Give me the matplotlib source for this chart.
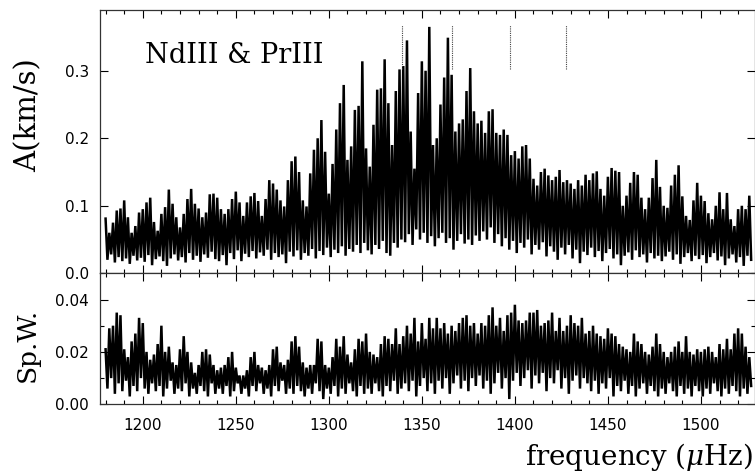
import matplotlib
matplotlib.use("Agg")
import matplotlib.pyplot as plt
import numpy as np
from matplotlib.ticker import MultipleLocator, NullLocator

# Amplitude spectrum A (km/s):
# local maxima on even frequencies (1180, 1182, ...), minima on odd ones (1181, 1183, ...)
amp_peak = [
    0.081, 0.060, 0.075, 0.093, 0.096, 0.108, 0.083, 0.060, 0.070, 0.090,
    0.095, 0.105, 0.112, 0.076, 0.063, 0.088, 0.098, 0.124, 0.103, 0.083,
    0.068, 0.088, 0.110, 0.125, 0.103, 0.096, 0.083, 0.090, 0.117, 0.118,
    0.112, 0.095, 0.088, 0.095, 0.110, 0.121, 0.105, 0.085, 0.105, 0.114,
    0.119, 0.107, 0.085, 0.110, 0.138, 0.133, 0.124, 0.108, 0.099, 0.138,
    0.166, 0.173, 0.150, 0.108, 0.099, 0.148, 0.183, 0.200, 0.227, 0.180,
    0.118, 0.162, 0.213, 0.252, 0.279, 0.168, 0.188, 0.242, 0.248, 0.314,
    0.185, 0.158, 0.220, 0.272, 0.274, 0.317, 0.252, 0.190, 0.270, 0.302,
    0.307, 0.345, 0.210, 0.155, 0.267, 0.314, 0.300, 0.365, 0.190, 0.200,
    0.250, 0.290, 0.349, 0.294, 0.210, 0.222, 0.228, 0.270, 0.304, 0.240,
    0.222, 0.226, 0.208, 0.240, 0.243, 0.208, 0.205, 0.213, 0.205, 0.175,
    0.181, 0.170, 0.188, 0.190, 0.170, 0.140, 0.130, 0.150, 0.155, 0.145,
    0.138, 0.143, 0.153, 0.135, 0.138, 0.133, 0.125, 0.138, 0.130, 0.146,
    0.138, 0.148, 0.151, 0.125, 0.115, 0.143, 0.156, 0.152, 0.150, 0.100,
    0.115, 0.134, 0.150, 0.146, 0.112, 0.095, 0.112, 0.141, 0.168, 0.128,
    0.100, 0.097, 0.130, 0.146, 0.160, 0.114, 0.085, 0.079, 0.108, 0.134,
    0.115, 0.107, 0.089, 0.080, 0.100, 0.120, 0.095, 0.119, 0.080, 0.070,
    0.095, 0.100, 0.095, 0.115,
]
amp_dip = [
    0.020, 0.028, 0.016, 0.024, 0.018, 0.022, 0.014, 0.026, 0.019, 0.023,
    0.017, 0.027, 0.012, 0.021, 0.025, 0.018, 0.011, 0.022, 0.028, 0.019,
    0.024, 0.016, 0.030, 0.020, 0.026, 0.017, 0.028, 0.023, 0.032, 0.021,
    0.018, 0.027, 0.012, 0.030, 0.021, 0.034, 0.018, 0.029, 0.024, 0.033,
    0.022, 0.031, 0.026, 0.035, 0.020, 0.030, 0.024, 0.028, 0.015, 0.032,
    0.025, 0.034, 0.020, 0.030, 0.026, 0.036, 0.022, 0.033, 0.027, 0.038,
    0.024, 0.035, 0.030, 0.040, 0.026, 0.036, 0.032, 0.042, 0.030, 0.045,
    0.034, 0.028, 0.042, 0.036, 0.048, 0.030, 0.026, 0.045, 0.038, 0.050,
    0.046, 0.058, 0.042, 0.065, 0.050, 0.060, 0.045, 0.055, 0.040, 0.052,
    0.060, 0.045, 0.052, 0.035, 0.048, 0.058, 0.044, 0.050, 0.042, 0.056,
    0.048, 0.062, 0.050, 0.068, 0.045, 0.058, 0.040, 0.052, 0.035, 0.048,
    0.030, 0.045, 0.038, 0.050, 0.028, 0.042, 0.035, 0.046, 0.025, 0.040,
    0.032, 0.020, 0.038, 0.028, 0.042, 0.022, 0.035, 0.015, 0.032, 0.027,
    0.038, 0.024, 0.033, 0.018, 0.030, 0.036, 0.022, 0.028, 0.012, 0.026,
    0.031, 0.020, 0.034, 0.024, 0.028, 0.016, 0.030, 0.022, 0.026, 0.018,
    0.025, 0.032, 0.020, 0.028, 0.014, 0.024, 0.030, 0.018, 0.026, 0.021,
    0.027, 0.015, 0.024, 0.030, 0.019, 0.025, 0.012, 0.022, 0.028, 0.016,
    0.024, 0.011, 0.026, 0.020,
]

# Spectral window (Sp.W.), same frequency sampling
spw_peak = [
    0.021, 0.029, 0.030, 0.035, 0.034, 0.021, 0.018, 0.024, 0.027, 0.033,
    0.031, 0.020, 0.017, 0.019, 0.023, 0.030, 0.020, 0.022, 0.016, 0.015,
    0.021, 0.026, 0.020, 0.016, 0.012, 0.015, 0.020, 0.021, 0.019, 0.015,
    0.013, 0.014, 0.015, 0.018, 0.020, 0.014, 0.011, 0.011, 0.013, 0.018,
    0.020, 0.015, 0.014, 0.013, 0.015, 0.021, 0.022, 0.016, 0.015, 0.017,
    0.024, 0.026, 0.022, 0.016, 0.014, 0.015, 0.015, 0.025, 0.024, 0.015,
    0.014, 0.018, 0.025, 0.022, 0.026, 0.019, 0.016, 0.021, 0.025, 0.024,
    0.027, 0.020, 0.019, 0.018, 0.023, 0.026, 0.025, 0.023, 0.029, 0.023,
    0.026, 0.030, 0.027, 0.033, 0.024, 0.031, 0.025, 0.033, 0.029, 0.033,
    0.029, 0.031, 0.027, 0.030, 0.028, 0.031, 0.033, 0.034, 0.030, 0.031,
    0.027, 0.031, 0.030, 0.034, 0.037, 0.030, 0.033, 0.028, 0.034, 0.035,
    0.038, 0.032, 0.031, 0.032, 0.035, 0.035, 0.036, 0.030, 0.031, 0.032,
    0.035, 0.028, 0.033, 0.028, 0.030, 0.034, 0.031, 0.030, 0.033, 0.027,
    0.028, 0.030, 0.027, 0.026, 0.025, 0.029, 0.027, 0.026, 0.023, 0.022,
    0.021, 0.020, 0.027, 0.024, 0.023, 0.020, 0.019, 0.022, 0.027, 0.023,
    0.020, 0.018, 0.020, 0.022, 0.024, 0.020, 0.026, 0.020, 0.019, 0.021,
    0.020, 0.021, 0.022, 0.020, 0.018, 0.023, 0.021, 0.025, 0.021, 0.027,
    0.029, 0.027, 0.022, 0.018,
]
spw_dip = [
    0.006, 0.010, 0.004, 0.008, 0.005, 0.009, 0.003, 0.007, 0.005, 0.010,
    0.006, 0.004, 0.008, 0.005, 0.007, 0.003, 0.006, 0.009, 0.004, 0.006,
    0.005, 0.008, 0.003, 0.006, 0.004, 0.007, 0.005, 0.003, 0.008, 0.004,
    0.006, 0.004, 0.007, 0.003, 0.005, 0.008, 0.004, 0.006, 0.003, 0.007,
    0.005, 0.008, 0.004, 0.006, 0.003, 0.007, 0.005, 0.009, 0.004, 0.006,
    0.004, 0.007, 0.005, 0.003, 0.006, 0.004, 0.008, 0.005, 0.002, 0.006,
    0.004, 0.007, 0.003, 0.006, 0.004, 0.008, 0.005, 0.003, 0.007, 0.004,
    0.006, 0.004, 0.008, 0.005, 0.003, 0.007, 0.005, 0.009, 0.004, 0.006,
    0.008, 0.005, 0.009, 0.003, 0.007, 0.010, 0.005, 0.008, 0.004, 0.009,
    0.006, 0.010, 0.004, 0.008, 0.011, 0.006, 0.009, 0.005, 0.010, 0.007,
    0.011, 0.006, 0.009, 0.004, 0.008, 0.012, 0.006, 0.010, 0.002, 0.009,
    0.012, 0.007, 0.010, 0.013, 0.006, 0.011, 0.008, 0.012, 0.005, 0.010,
    0.008, 0.013, 0.006, 0.010, 0.004, 0.009, 0.011, 0.006, 0.010, 0.008,
    0.005, 0.009, 0.004, 0.008, 0.006, 0.010, 0.003, 0.007, 0.005, 0.009,
    0.004, 0.007, 0.003, 0.006, 0.008, 0.004, 0.007, 0.005, 0.003, 0.006,
    0.004, 0.008, 0.005, 0.003, 0.007, 0.004, 0.006, 0.003, 0.007, 0.005,
    0.003, 0.006, 0.004, 0.008, 0.005, 0.003, 0.006, 0.004, 0.007, 0.005,
    0.003, 0.006, 0.004, 0.007,
]
peak_start, dip_start, step = 1180.0, 1181.0, 2.0

# marked frequencies (dotted lines at the top)
mode_freqs = [1339.1, 1366.3, 1397.3, 1427.3]


def zigzag(peaks, dips):
    """Interleave maxima and minima into one dense line."""
    f = np.empty(len(peaks) + len(dips))
    y = np.empty_like(f)
    f[0::2] = peak_start + step * np.arange(len(peaks))
    f[1::2] = dip_start + step * np.arange(len(dips))
    y[0::2] = peaks
    y[1::2] = dips
    return f, y


plt.rcParams["mathtext.fontset"] = "dejavuserif"
serif = "DejaVu Serif"

W, H = 755, 472
fig = plt.figure(figsize=(W / 100, H / 100), dpi=100)
ax1 = fig.add_axes([100 / W, 1 - 273.3 / H, 654.5 / W, 263.3 / H])
ax2 = fig.add_axes([100 / W, 1 - 404.3 / H, 654.5 / W, 131.0 / H])

f_amp, y_amp = zigzag(amp_peak, amp_dip)
f_spw, y_spw = zigzag(spw_peak, spw_dip)
ax1.plot(f_amp, y_amp, color="black", lw=1.8, solid_joinstyle="bevel")
ax2.plot(f_spw, y_spw, color="black", lw=1.8, solid_joinstyle="bevel")

ax1.vlines(mode_freqs, 0.302, 0.368, colors="#444444", linestyles=(0, (1, 1)), lw=0.8)

for ax in (ax1, ax2):
    ax.set_xlim(1177, 1528.8)
    ax.xaxis.set_major_locator(MultipleLocator(50))
    ax.xaxis.set_minor_locator(MultipleLocator(10))
    ax.tick_params(which="both", direction="in", top=True, right=True,
                   width=0.8, colors="black", labelsize=11, pad=8)
    ax.tick_params(which="major", length=6)
    ax.tick_params(which="minor", length=3)
    for sp in ax.spines.values():
        sp.set_linewidth(0.9)
        sp.set_color("#333333")

ax1.set_ylim(0, 0.39)
ax1.yaxis.set_major_locator(MultipleLocator(0.1))
ax1.yaxis.set_minor_locator(NullLocator())
ax1.tick_params(labelbottom=False)

ax2.set_ylim(0, 0.05)
ax2.yaxis.set_major_locator(MultipleLocator(0.02))
ax2.yaxis.set_minor_locator(MultipleLocator(0.01))
ax2.tick_params(axis="x", pad=10)

ax1.text(1201, 0.312, "NdIII & PrIII", family=serif, fontsize=19.5,
         ha="left", va="baseline")

fig.text(28 / W, 1 - 115 / H, "A(km/s)", family=serif, fontsize=21,
         rotation=90, ha="center", va="center")
fig.text(27 / W, 1 - 345 / H, "Sp.W.", family=serif, fontsize=19,
         rotation=90, ha="center", va="center")
fig.text(753 / W, 1 - 465 / H, r"frequency ($\mu$Hz)", family=serif,
         fontsize=20, ha="right", va="baseline")

fig.savefig("out.png", dpi=100)
